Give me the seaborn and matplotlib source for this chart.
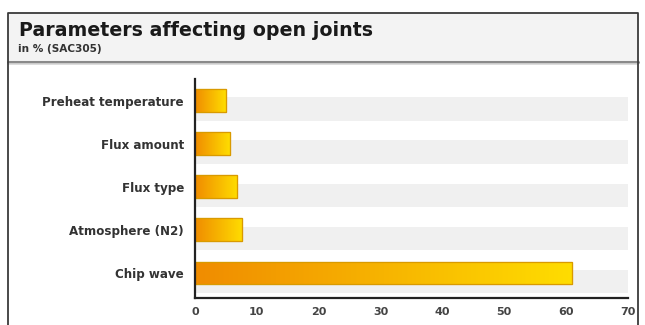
import numpy as np
import pandas as pd
import matplotlib
matplotlib.use("Agg")
import matplotlib.pyplot as plt
import seaborn as sns
from matplotlib.colors import LinearSegmentedColormap
from matplotlib.patches import Rectangle
from matplotlib.lines import Line2D

categories = ["Preheat temperature", "Flux amount", "Flux type", "Atmosphere (N2)", "Chip wave"]
values = [5.0, 5.6, 6.8, 7.6, 61.0]
x_ticks = [0, 10, 20, 30, 40, 50, 60, 70]
title = "Parameters affecting open joints"
subtitle = "in % (SAC305)"

sns.set_theme(style="white")
plt.rcParams['font.family'] = ['DejaVu Sans']

fig = plt.figure(figsize=(6.45, 3.25), dpi=100)
fig.patch.set_facecolor("white")

W, H = 645, 325
def fx(px): return px / W
def fy(py): return 1 - py / H

# header background and frame
fig.patches.append(Rectangle((fx(8), fy(61)), fx(638) - fx(8), fy(13) - fy(61),
                             transform=fig.transFigure, facecolor="#f3f3f3", edgecolor="none", zorder=0))
fig.lines.append(Line2D([fx(8), fx(638)], [fy(61.5), fy(61.5)], transform=fig.transFigure,
                        color="#8a8a8a", lw=2.2, zorder=2))
fig.lines.append(Line2D([fx(8), fx(638)], [fy(63.5), fy(63.5)], transform=fig.transFigure,
                        color="#d8d8d8", lw=1.2, zorder=2))
fig.lines.append(Line2D([fx(8), fx(8), fx(638), fx(638)], [0, fy(13), fy(13), 0], transform=fig.transFigure,
                        color="#3a3a3a", lw=1.3, zorder=3))

fig.text(fx(19), fy(30), title, fontsize=13.7, fontweight="bold", color="#1a1a1a", va="center", ha="left")
fig.text(fx(18), fy(49), subtitle, fontsize=7.6, fontweight="bold", color="#333333", va="center", ha="left")

ax = fig.add_axes([fx(195), fy(298), fx(628) - fx(195), fy(79) - fy(298)])
ax.set_facecolor("white")

df = pd.DataFrame({"category": categories, "value": values})

# background tracks (full scale), slightly offset
track_max = x_ticks[-1]
for i in range(len(categories)):
    ax.barh(i + 0.2, track_max, height=0.55, left=0, color="#f0f0f0", edgecolor="none", zorder=0.5)

sns.barplot(data=df, y="category", x="value", orient="h", ax=ax, width=0.53,
            color="#f5b800", edgecolor="#d99a00", linewidth=0.8, zorder=2)

cmap = LinearSegmentedColormap.from_list("og", ["#f08c00", "#f7b400", "#ffdd00"])
grad = np.linspace(0, 1, 256).reshape(1, -1)
for p in ax.patches:
    if p.get_zorder() != 2:
        continue
    x0, y0 = p.get_x(), p.get_y()
    w, h = p.get_width(), p.get_height()
    im = ax.imshow(grad, cmap=cmap, aspect="auto", extent=[x0, x0 + w, y0 + h, y0],
                   zorder=2.1, interpolation="bilinear")
    im.set_clip_path(p)
    ax.add_patch(Rectangle((x0, y0), w, h, fill=False, edgecolor="#d99a00", lw=0.9, zorder=2.2))

ax.set_xlim(0, 70)
ax.set_ylim(4.58, -0.5)
ax.set_xticks(x_ticks)
ax.set_xticklabels([str(t) for t in x_ticks], fontsize=8, fontweight="bold", color="#444444")
ax.set_yticks(range(len(categories)))
ax.set_yticklabels(categories, fontsize=8.6, fontweight="bold", color="#333333")
ax.set_yticks([i - 0.5 for i in range(len(categories))], minor=True)
ax.tick_params(axis="y", which="major", length=0, pad=8)
ax.tick_params(axis="y", which="minor", length=4, width=1.2, color="#222222", direction="out")
ax.tick_params(axis="x", which="major", length=5, width=1.0, color="#222222", direction="inout", pad=4)
ax.set_xlabel("")
ax.set_ylabel("")
for s in ["top", "right"]:
    ax.spines[s].set_visible(False)
for s in ["left", "bottom"]:
    ax.spines[s].set_color("#222222")
    ax.spines[s].set_linewidth(1.6)

fig.savefig("out.png", dpi=100)
